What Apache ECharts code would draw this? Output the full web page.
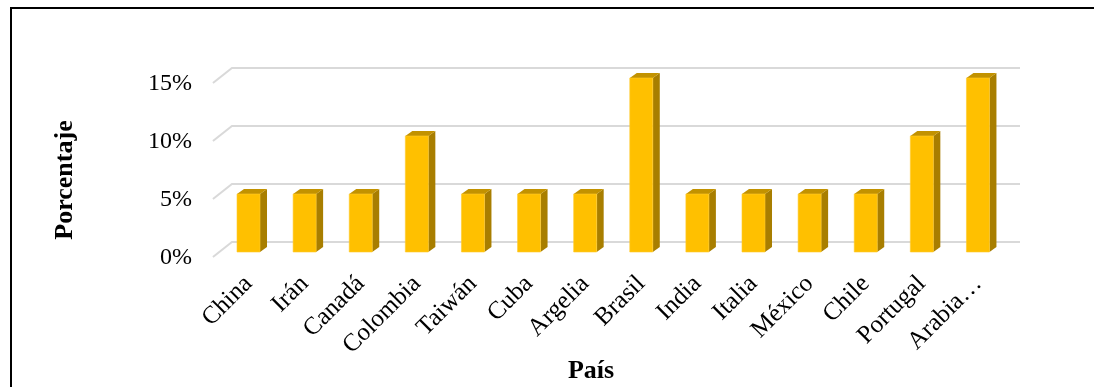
<!DOCTYPE html>
<html>
<head>
<meta charset="utf-8">
<script src="https://cdn.jsdelivr.net/npm/echarts@6/dist/echarts.min.js"></script>
<style>
  html, body { margin: 0; padding: 0; background: #fff; }
  #chart { width: 1094px; height: 387px; }
</style>
</head>
<body>
<div id="chart"></div>
<script>
// Share of respondents by country
const countries = ['China', 'Irán', 'Canadá', 'Colombia', 'Taiwán', 'Cuba', 'Argelia',
                   'Brasil', 'India', 'Italia', 'México', 'Chile', 'Portugal', 'Arabia…'];
const percentages = [5, 5, 5, 10, 5, 5, 5, 15, 5, 5, 5, 5, 10, 15];
const yTicks = [0, 5, 10, 15];

const FONT = 'Liberation Serif';
const FRONT = '#FFC000';
const SIDE = '#A87E00';
const TOP = '#C29200';
const DEPTH_X = 7, DEPTH_Y = -5;   // extrusion of the 3D columns
const WALL_SHIFT = 10;             // back wall sits above the front plane

const chart = echarts.init(document.getElementById('chart'), null, { renderer: 'canvas' });

// 3D-looking column: front face, right side, top
function renderColumn(params, api) {
  const idx = api.value(0);
  const v = api.value(1);
  const base = api.coord([idx, 0]);
  const top = api.coord([idx, v]);
  const w = api.size([1, 0])[0] * 0.41;
  const x0 = base[0] - w / 2, x1 = base[0] + w / 2;
  const yb = base[1], yt = top[1];
  return {
    type: 'group',
    children: [
      { type: 'polygon',
        shape: { points: [[x1, yb], [x1 + DEPTH_X, yb + DEPTH_Y], [x1 + DEPTH_X, yt + DEPTH_Y], [x1, yt]] },
        style: { fill: SIDE } },
      { type: 'polygon',
        shape: { points: [[x0, yt], [x1, yt], [x1 + DEPTH_X, yt + DEPTH_Y], [x0 + DEPTH_X, yt + DEPTH_Y]] },
        style: { fill: TOP } },
      { type: 'rect',
        shape: { x: x0, y: yt, width: w, height: yb - yt },
        style: { fill: FRONT, stroke: '#FFCB2E', lineWidth: 0.6 } }
    ]
  };
}

// Back-wall gridline with its short side-wall diagonal, and the tick label at its foot
function renderGridline(params, api) {
  const cs = params.coordSys;
  const v = api.value(1);
  const y = api.coord([0, v])[1] - WALL_SHIFT;
  return {
    type: 'group',
    children: [
      { type: 'polyline',
        shape: { points: [[cs.x - 7.5, y + 15], [cs.x + 11.5, y], [cs.x + cs.width + 14, y]] },
        style: { stroke: '#D9D9D9', lineWidth: 2, fill: null } },
      { type: 'text',
        x: cs.x - 28.5, y: y + 15.5,
        style: { text: v + '%', fontFamily: FONT, fontSize: 24, fill: '#000',
                 align: 'right', verticalAlign: 'middle' } }
    ]
  };
}

chart.setOption({
  animation: false,
  backgroundColor: '#fff',
  grid: { left: 220.45, right: 88, top: 78, bottom: 135 },
  xAxis: {
    type: 'category',
    data: countries,
    axisLine: { show: false },
    axisTick: { show: false },
    axisLabel: { interval: 0, rotate: 45, margin: 28, color: '#000', fontFamily: FONT, fontSize: 25 }
  },
  yAxis: {
    type: 'value',
    min: 0, max: 15, interval: 5,
    axisLine: { show: false },
    axisTick: { show: false },
    splitLine: { show: false },
    axisLabel: { show: false }
  },
  series: [
    { type: 'custom', renderItem: renderGridline, clip: false, z: 1, silent: true,
      data: yTicks.map(v => [0, v]), encode: { x: 0, y: 1 } },
    { type: 'custom', renderItem: renderColumn, clip: false, z: 2,
      data: percentages.map((v, i) => [i, v]), encode: { x: 0, y: 1 } }
  ],
  graphic: [
    { type: 'polyline', shape: { points: [[11, 400], [11, 8], [1100, 8]] },
      style: { fill: null, stroke: '#000', lineWidth: 2 }, z: 100, silent: true },
    { type: 'text', x: 591, y: 371,
      style: { text: 'País', fontFamily: FONT, fontWeight: 'bold', fontSize: 26, fill: '#000',
               align: 'center', verticalAlign: 'middle' } },
    { type: 'text', x: 65, y: 180, rotation: Math.PI / 2,
      style: { text: 'Porcentaje', fontFamily: FONT, fontWeight: 'bold', fontSize: 26, fill: '#000',
               align: 'center', verticalAlign: 'middle' } }
  ]
});
</script>
</body>
</html>
